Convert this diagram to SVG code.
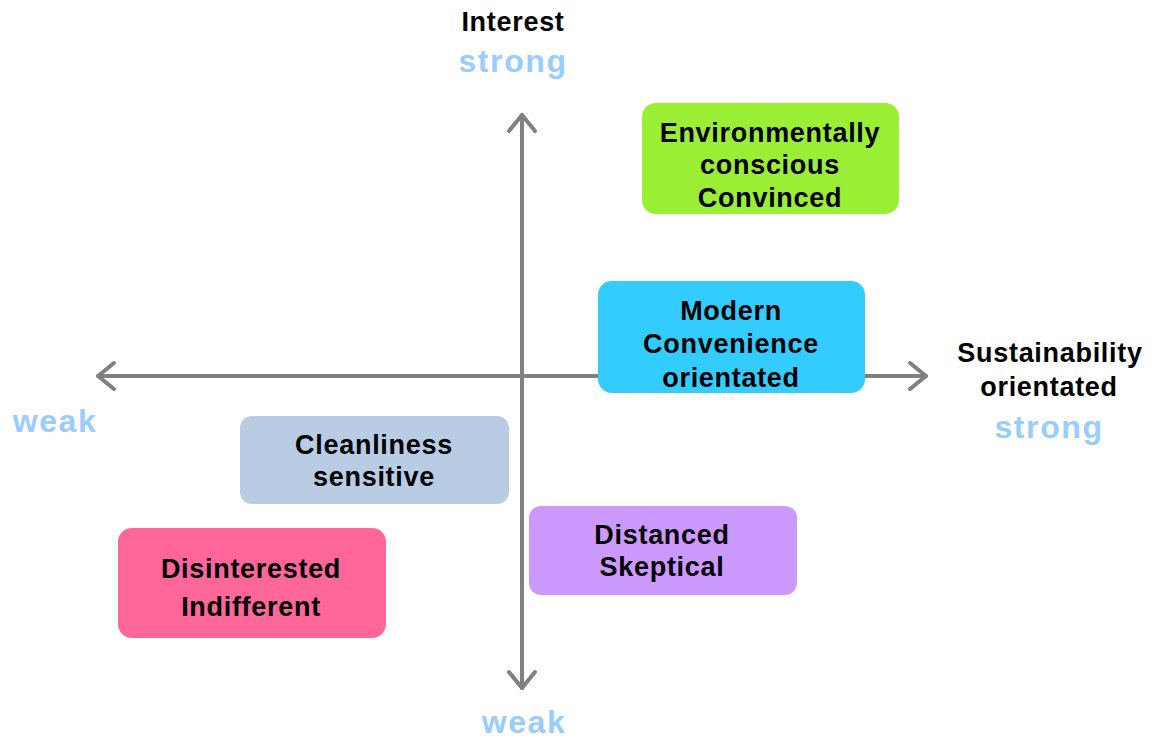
<svg xmlns="http://www.w3.org/2000/svg" width="1155" height="738" viewBox="0 0 1155 738">
<style>
.t{font-family:"Liberation Sans",Arial,sans-serif;font-weight:bold;font-size:27px;fill:#000;text-anchor:middle;letter-spacing:0.7px}
.s{font-family:"Liberation Sans",Arial,sans-serif;font-weight:bold;font-size:32px;fill:#99CCFF;text-anchor:middle;letter-spacing:1.6px}
.ax{stroke:#808080;stroke-width:4;fill:none;stroke-linecap:round;stroke-linejoin:round}
</style>
<rect width="1155" height="738" fill="#fff"/>
<g id="axes">
<line class="ax" x1="522" y1="115" x2="522" y2="688"/>
<line class="ax" x1="98" y1="376" x2="926" y2="376"/>
<polyline class="ax" points="509,131 522,115 535,131" stroke-width="4.5"/>
<polyline class="ax" points="509,672 522,688 535,672" stroke-width="4.5"/>
<polyline class="ax" points="114,363 98,376 114,389" stroke-width="4.5"/>
<polyline class="ax" points="910,363 926,376 910,389" stroke-width="4.5"/>
</g>
<g id="labels">
<text class="t" x="513" y="31">Interest</text>
<text class="s" x="513" y="72">strong</text>
<text class="s" x="55" y="432">weak</text>
<text class="s" x="524" y="733">weak</text>
<text class="t" x="1050" y="362">Sustainability</text>
<text class="t" x="1049" y="396">orientated</text>
<text class="s" x="1049" y="438">strong</text>
</g>
<g id="env">
<rect x="642" y="103" width="257" height="111" rx="14" fill="#9AEF35"/>
<text class="t" x="770" y="142">Environmentally</text>
<text class="t" x="770" y="174">conscious</text>
<text class="t" x="770" y="207">Convinced</text>
</g>
<g id="modern">
<rect x="598" y="281" width="267" height="112" rx="14" fill="#33CCFF"/>
<text class="t" x="731" y="320">Modern</text>
<text class="t" x="731" y="353">Convenience</text>
<text class="t" x="731" y="387">orientated</text>
</g>
<g id="clean">
<rect x="240" y="416" width="269" height="88" rx="12" fill="#B8CCE4"/>
<text class="t" x="374" y="454">Cleanliness</text>
<text class="t" x="374" y="486">sensitive</text>
</g>
<g id="distanced">
<rect x="529" y="506" width="268" height="89" rx="12" fill="#CC99FF"/>
<text class="t" x="662" y="544">Distanced</text>
<text class="t" x="662" y="576">Skeptical</text>
</g>
<g id="disinterested">
<rect x="118" y="528" width="268" height="110" rx="14" fill="#FF6699"/>
<text class="t" x="251" y="578">Disinterested</text>
<text class="t" x="251" y="616">Indifferent</text>
</g>
</svg>
